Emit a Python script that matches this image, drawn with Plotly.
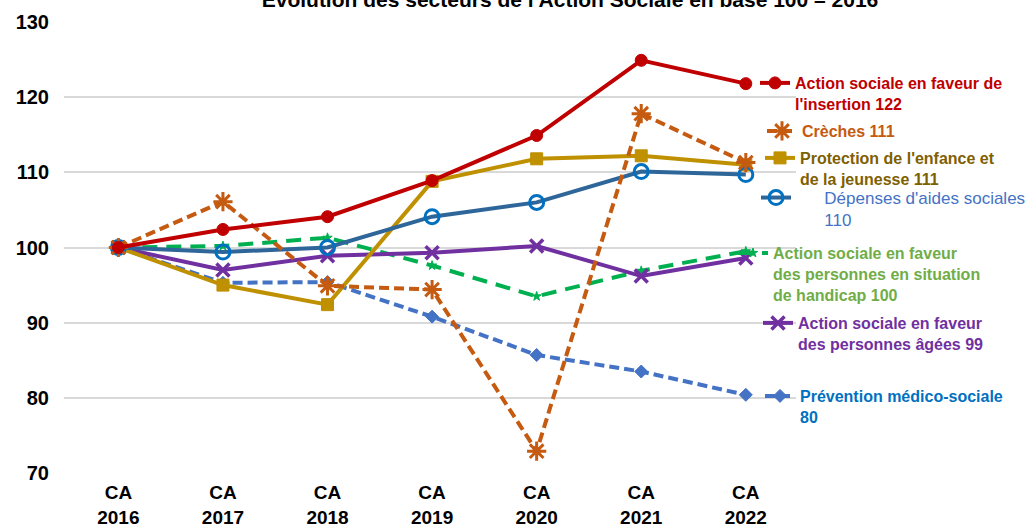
import plotly.graph_objects as go

categories = ["CA<br>2016", "CA<br>2017", "CA<br>2018", "CA<br>2019", "CA<br>2020", "CA<br>2021", "CA<br>2022"]

insertion = [100, 102.4, 104.1, 108.9, 114.9, 124.9, 121.8]
creches = [100, 106.1, 94.9, 94.4, 72.9, 117.8, 111.3]
protection = [100, 95.0, 92.4, 108.8, 111.8, 112.2, 111.0]
depenses = [100, 99.4, 100.0, 104.1, 106.0, 110.1, 109.7]
handicap = [100, 100.2, 101.3, 97.6, 93.5, 96.9, 99.5]
agees = [100, 97.0, 98.9, 99.3, 100.2, 96.2, 98.6]
prevention = [100, 95.3, 95.4, 90.8, 85.7, 83.5, 80.4]

names = [
    "Action sociale en faveur de<br>l'insertion 122",
    "Crèches 111",
    "Protection de l'enfance et<br>de la jeunesse 111",
    "\u00a0\u00a0\u00a0\u00a0\u00a0\u00a0Dépenses d'aides sociales<br>\u00a0\u00a0\u00a0\u00a0\u00a0\u00a0110",
    "Action sociale en faveur<br>des personnes en situation<br>de handicap 100",
    "Action sociale en faveur<br>des personnes âgées 99",
    "Prévention médico-sociale<br>80",
]

FONT = "Liberation Sans, Arial, sans-serif"
W, H = 1034, 529

fig = go.Figure()

def add(y, name, color, dash, symbol, msize, mcolor, mline, legend, mlw=2.5):
    fig.add_trace(go.Scatter(
        x=categories, y=y, name=name, mode="lines+markers",
        line=dict(color=color, width=4, dash=dash),
        marker=dict(symbol=symbol, size=msize, color=mcolor,
                    line=dict(color=mline, width=mlw)),
        legend=legend, showlegend=True,
    ))

add(prevention, names[6], "#4472C4", "10px,5px", "diamond", 10, "#4472C4", "#4472C4", "legend7", 1)
add(handicap, names[4], "#00B050", "15px,9px", "star", 7, "#00B050", "#00B050", "legend5", 1)
add(agees, names[5], "#7030A0", "solid", "x-thin", 13, "#7030A0", "#7030A0", "legend6", 3.5)
add(protection, names[2], "#BF9000", "solid", "square", 12, "#BF9000", "#BF9000", "legend3", 1)
add(depenses, names[3], "#2E6699", "solid", "circle-open", 14, "#0070C0", "#0070C0", "legend4", 3)
add(creches, names[1], "#C55A11", "10px,5px", "asterisk-open", 16, "#C55A11", "#C55A11", "legend2", 3)
add(insertion, names[0], "#C00000", "solid", "circle", 12, "#C00000", "#C00000", "legend", 1)

def leg(xpx, ypx, color, bold=True, size=16):
    return dict(
        x=xpx / W, y=1 - ypx / H, xref="container", yref="container",
        xanchor="left", yanchor="top", bgcolor="rgba(0,0,0,0)",
        valign="top", tracegroupgap=0,
        font=dict(family=FONT, size=size, color=color, weight="bold" if bold else "normal"),
    )

fig.update_layout(
    width=W, height=H,
    showlegend=True,
    margin=dict(l=64, r=238, t=22, b=56, autoexpand=False),
    plot_bgcolor="white", paper_bgcolor="white",
    title=dict(
        text="<b>Evolution des secteurs de l'Action Sociale en base 100 – 2016</b>",
        x=570 / W, xanchor="center", y=1.0, yanchor="middle", yref="container",
        font=dict(family=FONT, size=21, color="black"),
    ),
    xaxis=dict(
        range=[-0.52, 6.48],
        showgrid=False, showline=False, zeroline=False, ticks="",
        tickfont=dict(family=FONT, size=19, color="black", weight="bold"),
        ticklabelstandoff=6,
    ),
    yaxis=dict(
        range=[70, 130], dtick=10, showgrid=True, gridcolor="#D9D9D9", gridwidth=1.5,
        zeroline=False, showline=False, ticks="",
        tickfont=dict(family=FONT, size=20, color="black", weight="bold"),
        ticklabelstandoff=14,
    ),
    legend=leg(755, 66, "#C00000"),
    legend2=leg(762, 114, "#C55A11"),
    legend3=leg(760, 141, "#7F6000"),
    legend4=leg(756, 180, "#4472C4", bold=False, size=17),
    legend5=leg(733, 236, "#70AD47"),
    legend6=leg(758, 306, "#7030A0"),
    legend7=leg(760, 379, "#0070C0"),
)

fig.write_html("out.html")
